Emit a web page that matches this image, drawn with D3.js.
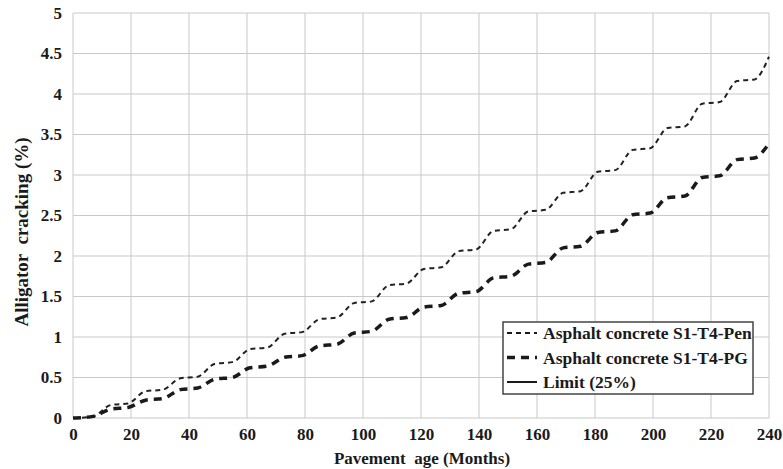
<!DOCTYPE html>
<html>
<head>
<meta charset="utf-8">
<script src="https://cdn.jsdelivr.net/npm/d3@7"></script>
<style>
  html, body { margin: 0; padding: 0; background: #fff; }
</style>
</head>
<body>
<svg id="chart" width="783" height="469"></svg>
<script>
// Alligator cracking over pavement age; each year has a flat stretch
// (months 12k+1 .. 12k+7) followed by a seasonal rise.
const months = [0, 1, 7, 13, 19, 25, 31, 37, 43, 49, 55, 61, 67, 73, 79, 85, 91, 97, 103,
  109, 115, 121, 127, 133, 139, 145, 151, 157, 163, 169, 175, 181, 187, 193, 199,
  205, 211, 217, 223, 229, 235, 240];
const penValues = [0.00, 0.00, 0.02, 0.16, 0.18, 0.33, 0.35, 0.49, 0.51, 0.67, 0.69, 0.85, 0.87,
  1.04, 1.06, 1.22, 1.24, 1.42, 1.44, 1.64, 1.66, 1.84, 1.86, 2.06, 2.08, 2.31, 2.33,
  2.55, 2.57, 2.78, 2.80, 3.04, 3.06, 3.31, 3.33, 3.58, 3.60, 3.88, 3.90, 4.16, 4.18, 4.46];
const pgValues = [0.00, 0.00, 0.02, 0.11, 0.13, 0.22, 0.24, 0.35, 0.37, 0.48, 0.50, 0.62, 0.64,
  0.75, 0.77, 0.89, 0.91, 1.05, 1.07, 1.22, 1.24, 1.37, 1.39, 1.54, 1.56, 1.73, 1.75,
  1.90, 1.92, 2.10, 2.12, 2.29, 2.31, 2.51, 2.53, 2.72, 2.74, 2.97, 2.99, 3.19, 3.21, 3.39];
const xTicks = [0, 20, 40, 60, 80, 100, 120, 140, 160, 180, 200, 220, 240];
const yTicks = [0, 0.5, 1, 1.5, 2, 2.5, 3, 3.5, 4, 4.5, 5];
const legendLabels = ["Asphalt concrete S1-T4-Pen", "Asphalt concrete S1-T4-PG", "Limit (25%)"];

const svg = d3.select("#chart");
const margin = { left: 73, right: 14, top: 13, bottom: 51 };
const W = 783, H = 469;
const serif = "Liberation Serif";
const ink = "#1a1a1a";

const x = d3.scaleLinear().domain([0, 240]).range([margin.left, W - margin.right]);
const y = d3.scaleLinear().domain([0, 5]).range([H - margin.bottom, margin.top]);

// gridlines (also form the plot frame)
const grid = svg.append("g").attr("stroke", "#c9c9c9").attr("stroke-width", 1);
grid.selectAll("line.v").data(xTicks).join("line")
  .attr("x1", d => x(d)).attr("x2", d => x(d))
  .attr("y1", y(0)).attr("y2", y(5));
grid.selectAll("line.h").data(yTicks).join("line")
  .attr("x1", x(0)).attr("x2", x(240))
  .attr("y1", d => y(d)).attr("y2", d => y(d));

// axes: labels only
const xAxis = svg.append("g").attr("transform", `translate(0,${y(0)})`)
  .call(d3.axisBottom(x).tickValues(xTicks).tickSize(0).tickPadding(10).tickFormat(d3.format("d")));
const yAxis = svg.append("g").attr("transform", `translate(${x(0)},0)`)
  .call(d3.axisLeft(y).tickValues(yTicks).tickSize(0).tickPadding(11).tickFormat(d => String(d)));
[xAxis, yAxis].forEach(a => {
  a.attr("font-family", serif).attr("font-size", 17).attr("font-weight", "bold");
  a.select(".domain").remove();
  a.selectAll("text").attr("fill", ink);
});

// axis titles
svg.append("text").attr("x", 422).attr("y", 464).attr("text-anchor", "middle")
  .attr("font-family", serif).attr("font-weight", "bold").attr("font-size", 17)
  .attr("fill", ink).style("white-space", "pre").text("Pavement  age (Months)");
svg.append("text").attr("transform", "translate(28,232) rotate(-90)")
  .attr("text-anchor", "middle").attr("font-family", serif).attr("font-weight", "bold")
  .attr("font-size", 19).attr("fill", ink)
  .style("white-space", "pre").text("Alligator  cracking (%)");

// series
const line = d3.line().x((d, i) => x(months[i])).y(d => y(d)).curve(d3.curveMonotoneX);
svg.append("path").datum(penValues).attr("d", line)
  .attr("fill", "none").attr("stroke", "#222").attr("stroke-width", 2)
  .attr("stroke-dasharray", "5,4");
svg.append("path").datum(pgValues).attr("d", line)
  .attr("fill", "none").attr("stroke", ink).attr("stroke-width", 3.5)
  .attr("stroke-dasharray", "8,6");

// legend
const lg = svg.append("g").attr("transform", "translate(503,322)");
lg.append("rect").attr("width", 250).attr("height", 72)
  .attr("fill", "#fff").attr("stroke", "#444").attr("stroke-width", 1.5);
const styles = [
  { w: 2, dash: "5,4" },
  { w: 3.5, dash: "8,6" },
  { w: 2, dash: null }
];
legendLabels.forEach((t, i) => {
  const cy = 11 + i * 24.5;
  lg.append("line").attr("x1", 4).attr("x2", 34).attr("y1", cy).attr("y2", cy)
    .attr("stroke", ink).attr("stroke-width", styles[i].w)
    .attr("stroke-dasharray", styles[i].dash);
  lg.append("text").attr("x", 40).attr("y", cy + 6).attr("font-family", serif)
    .attr("font-weight", "bold").attr("font-size", 17.5).attr("fill", ink).text(t);
});
</script>
</body>
</html>
